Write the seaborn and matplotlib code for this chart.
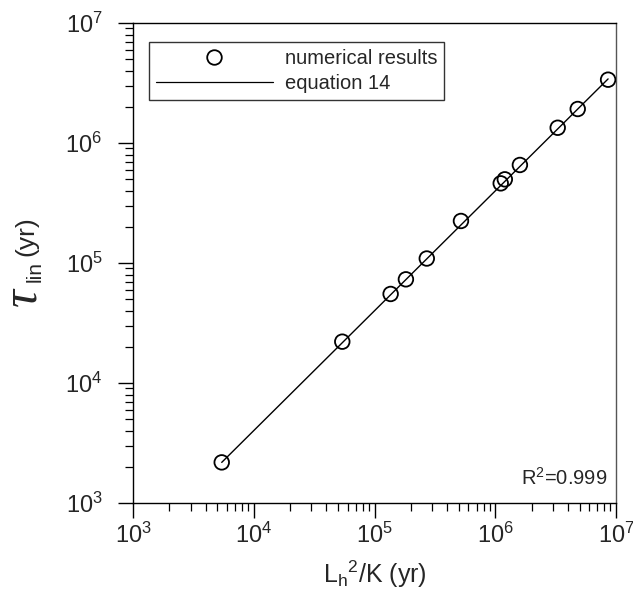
import numpy as np
import pandas as pd
import matplotlib
matplotlib.use("Agg")
import matplotlib.pyplot as plt
import matplotlib.ticker as mticker
from matplotlib.lines import Line2D
import seaborn as sns

# Numerical model results: diffusive timescale L_h^2/K vs. linear response time
lh2_over_k = [5.43e3, 5.41e4, 1.36e5, 1.82e5, 2.71e5, 5.2e5,
              1.11e6, 1.2e6, 1.6e6, 3.29e6, 4.82e6, 8.6e6]
tau_lin = [2.18e3, 2.21e4, 5.52e4, 7.31e4, 1.09e5, 2.24e5,
           4.61e5, 4.98e5, 6.56e5, 1.34e6, 1.92e6, 3.37e6]

# End points of the equation 14 line
eq_x = [5.43e3, 8.6e6]
eq_y = [2.18e3, 3.42e6]

r2_text = "R$^2$=0.999"
legend_labels = ["numerical results", "equation 14"]

sns.set_theme(style="ticks")
plt.rcParams["font.family"] = ["Liberation Sans", "DejaVu Sans"]
plt.rcParams["mathtext.fontset"] = "custom"
plt.rcParams["mathtext.rm"] = "Liberation Sans"
plt.rcParams["mathtext.it"] = "Liberation Sans:italic"
plt.rcParams["mathtext.default"] = "regular"

df = pd.DataFrame({"x": lh2_over_k, "y": tau_lin})
df_eq = pd.DataFrame({"x": eq_x, "y": eq_y})

W, H = 633, 596
fig = plt.figure(figsize=(W / 100, H / 100), dpi=100)
ax = fig.add_axes([133 / W, 1 - 503 / H, 483 / W, 480 / H])

sns.lineplot(data=df_eq, x="x", y="y", ax=ax, color="black", lw=1.0,
             estimator=None, sort=False)
sns.scatterplot(data=df, x="x", y="y", ax=ax, marker="o", s=110,
                facecolors="none", edgecolor="black", linewidth=1.3, zorder=3)

ax.set_xscale("log")
ax.set_yscale("log")
ax.set_xlim(1e3, 1e7)
ax.set_ylim(1e3, 1e7)

for axis in (ax.xaxis, ax.yaxis):
    axis.set_major_locator(mticker.LogLocator(base=10, numticks=10))
    axis.set_minor_locator(mticker.LogLocator(base=10, subs=np.arange(2, 10), numticks=10))
    axis.set_minor_formatter(mticker.NullFormatter())

ax.tick_params(which="major", direction="out", length=11, width=1.0,
               labelsize=17, color="black")
ax.tick_params(axis="x", which="major", pad=3)
ax.tick_params(axis="y", which="major", pad=11)
ax.tick_params(which="minor", direction="out", length=5.5, width=0.9, color="black")

for side in ["left", "bottom", "top", "right"]:
    ax.spines[side].set_visible(True)
    ax.spines[side].set_color("black")
    ax.spines[side].set_linewidth(1.0)
ax.spines["right"].set_color("#555555")

ax.set_xlabel(r"L$_h$$^2$/K (yr)", fontsize=18, labelpad=8)
ax.set_ylabel("")

# y-axis title: a large tau with "lin" subscript, then the unit
fig.text(23 / W, 1 - 297 / H, "\u03c4", rotation=90, fontsize=36,
         family="Liberation Serif", style="italic", ha="center", va="center")
fig.text(35 / W, 1 - 272 / H, "lin", rotation=90, fontsize=15,
         ha="center", va="center")
fig.text(26 / W, 1 - 236 / H, "(yr)", rotation=90, fontsize=19,
         ha="center", va="center")

ax.text(0.981, 0.052, r2_text, transform=ax.transAxes, ha="right", va="center",
        fontsize=14.5)

handles = [
    Line2D([], [], marker="o", ls="none", markersize=10.5, markerfacecolor="none",
           markeredgecolor="black", markeredgewidth=1.3),
    Line2D([], [], color="black", lw=0.9),
]
leg = ax.legend(handles, legend_labels, loc="upper left",
                bbox_to_anchor=((149 - 133) / 483, (503 - 42) / 480),
                borderaxespad=0, fontsize=14.5, frameon=True,
                fancybox=False, edgecolor="black", handlelength=5.8,
                borderpad=0.35, labelspacing=0.3, handletextpad=0.6)
leg.get_frame().set_linewidth(1.0)

fig.savefig("out.png", dpi=100)
